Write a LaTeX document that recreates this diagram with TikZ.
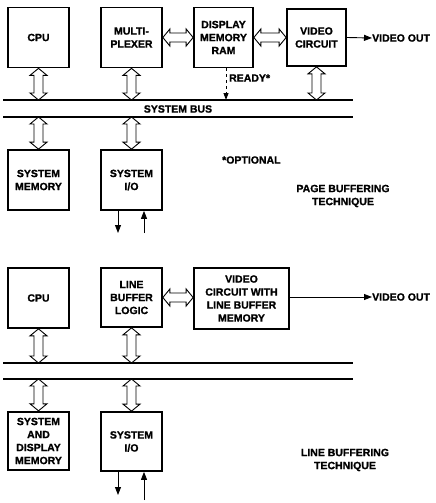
\documentclass[tikz,border=0pt]{standalone}
\usepackage{fontspec}
\setmainfont{Liberation Sans}[BoldFeatures={FakeBold=1.2}]
\usetikzlibrary{calc,arrows.meta}
\tikzset{
  box/.style={draw, line width=1.7pt, minimum width=61pt, minimum height=60pt, inner sep=1pt, align=center, font=\lbl},
  lab/.style={inner sep=0pt, align=center, font=\lbl},
  busline/.style={line width=1.2pt},
  hollow/.style={draw, line width=0.9pt, fill=white, line join=miter},
  sig/.style={line width=0.9pt, -{Triangle[length=8pt,width=6pt]}},
}
\newcommand\lbl{\bfseries\fontsize{10.5}{13}\selectfont}
\newcommand\hollowdbl[2]{%
  \coordinate (hA) at (#1); \coordinate (hB) at (#2);
  \coordinate (hA1) at ($(hA)!7pt!(hB)$);
  \coordinate (hB1) at ($(hB)!7pt!(hA)$);
  \draw[hollow] (hA) -- ($(hA1)!8.5pt!90:(hB)$) -- ($(hA1)!4.5pt!90:(hB)$)
    -- ($(hB1)!4.5pt!-90:(hA)$) -- ($(hB1)!8.5pt!-90:(hA)$) -- (hB)
    -- ($(hB1)!8.5pt!90:(hA)$) -- ($(hB1)!4.5pt!90:(hA)$)
    -- ($(hA1)!4.5pt!-90:(hB)$) -- ($(hA1)!8.5pt!-90:(hB)$) -- cycle;}
\begin{document}
\begin{tikzpicture}[x=1pt,y=-1pt]
\useasboundingbox (0,0) rectangle (436,503);

% ---------- page buffering ----------
\node[box] (cpuA) at (38.5,37.5) {CPU};
\node[box] (mux) at (131.5,37.5) {MULTI-\\PLEXER};
\node[box, minimum width=59pt] (dmem) at (223.5,37.5) {DISPLAY\\MEMORY\\RAM};
\node[box, minimum width=59pt, minimum height=57pt] (vid) at (316.5,37.5) {VIDEO\\CIRCUIT};
\node[lab, anchor=west] (voA) at (372,38) {VIDEO OUT};
\draw[sig] (vid.east) -- (voA.west);

\coordinate (b1l) at (3,100);  \coordinate (b1r) at (353,100);
\coordinate (b2l) at (3,117);  \coordinate (b2r) at (353,117);
\draw[busline] (b1l) -- (b1r);
\draw[busline] (b2l) -- (b2r);
\node[lab] (sbus) at (178,109) {SYSTEM BUS};

\hollowdbl{mux.east}{dmem.west}
\hollowdbl{dmem.east}{vid.west}
\hollowdbl{cpuA.south}{cpuA.south |- b1l}
\hollowdbl{mux.south}{mux.south |- b1l}
\hollowdbl{vid.south}{vid.south |- b1l}

\coordinate (rdy) at ([xshift=2.5pt]dmem.south);
\draw[line width=0.9pt, dashed, -{Triangle[length=7pt,width=5pt]}] (rdy) -- (rdy |- b1l);
\node[lab, anchor=west] (ready) at (229,78) {READY*};

\node[box] (smem) at (38.5,180) {SYSTEM\\MEMORY};
\node[box] (sioA) at (131.5,180) {SYSTEM\\I/O};
\hollowdbl{smem.north |- b2l}{smem.north}
\hollowdbl{sioA.north |- b2l}{sioA.north}

\coordinate (sioAout) at (118,233);
\coordinate (sioAin) at (144,233);
\draw[sig] (sioA.south -| sioAout) -- (sioAout);
\draw[sig] (sioAin) -- (sioA.south -| sioAin);

\node[lab, anchor=west] (opt) at (222,160) {*OPTIONAL};
\node[lab] (pbt) at (343,196) {PAGE BUFFERING\\TECHNIQUE};

% ---------- line buffering ----------
\node[box] (cpuB) at (38.5,298) {CPU};
\node[box, minimum height=59pt] (lbl) at (131.5,297.5) {LINE\\BUFFER\\LOGIC};
\node[box, minimum width=95pt, minimum height=61pt] (vlb) at (241.5,298.5) {VIDEO\\CIRCUIT WITH\\LINE BUFFER\\MEMORY};
\node[lab, anchor=west] (voB) at (372,297) {VIDEO OUT};
\draw[sig] (vlb.east |- voB.west) -- (voB.west);
\hollowdbl{lbl.east}{vlb.west |- lbl.east}

\coordinate (b3l) at (3,363);  \coordinate (b3r) at (353,363);
\coordinate (b4l) at (3,379);  \coordinate (b4r) at (353,379);
\draw[busline] (b3l) -- (b3r);
\draw[busline] (b4l) -- (b4r);

\hollowdbl{cpuB.south}{cpuB.south |- b3l}
\hollowdbl{lbl.south}{lbl.south |- b3l}

\node[box, line width=2.4pt, minimum height=58pt] (sdm) at (38.5,441) {SYSTEM\\AND\\DISPLAY\\MEMORY};
\node[box, minimum height=59pt] (sioB) at (131.5,441.5) {SYSTEM\\I/O};
\hollowdbl{sdm.north |- b4l}{sdm.north}
\hollowdbl{sioB.north |- b4l}{sioB.north}

\coordinate (sioBout) at (118,495);
\coordinate (sioBin) at (144,500);
\draw[sig] (sioB.south -| sioBout) -- (sioBout);
\draw[sig] (sioBin) -- (sioB.south -| sioBin);

\node[lab] (lbt) at (345,460) {LINE BUFFERING\\TECHNIQUE};
\end{tikzpicture}
\end{document}
